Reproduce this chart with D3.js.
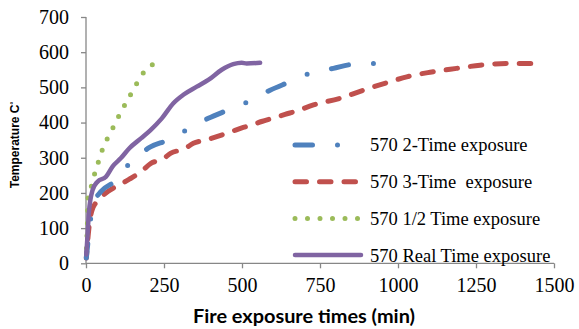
<!DOCTYPE html>
<html>
<head>
<meta charset="utf-8">
<script src="https://cdn.jsdelivr.net/npm/d3@7"></script>
<style>
  html, body { margin: 0; padding: 0; background: #fff; }
  svg { display: block; }
</style>
</head>
<body>
<svg id="chart" width="579" height="329"></svg>
<script>
// ---- data ----
const xTicks = [0, 250, 500, 750, 1000, 1250, 1500];
const yTicks = [0, 100, 200, 300, 400, 500, 600, 700];

const seriesNames = ["570 2-Time exposure", "570 3-Time  exposure", "570 1/2 Time exposure", "570 Real Time exposure"];

const twoTimeX = [1, 7, 13, 16, 25, 48, 91, 142, 205, 262, 328, 392, 456, 523, 590, 648, 718, 793, 851, 924];
const twoTimeY = [15, 66, 110, 137, 170, 204, 232, 286, 330, 350, 382, 412, 436, 461, 492, 514, 540, 554, 565, 568];

const threeTimeX = [1, 6, 12, 19, 30, 45, 70, 107, 139, 176, 208, 246, 272, 315, 344, 387, 419, 462, 504, 531, 563, 606, 638, 675, 729, 814, 889, 974, 1028, 1103, 1188, 1263, 1348, 1428];
const threeTimeY = [15, 70, 120, 150, 170, 185, 204, 223, 239, 260, 284, 296, 313, 325, 341, 351, 360, 373, 386, 393, 403, 414, 423, 433, 450, 469, 492, 516, 530, 543, 554, 563, 568, 568];

const halfTimeX = [0, 4, 7, 21, 30, 43, 55, 73, 91, 109, 128, 147, 167, 188, 215];
const halfTimeY = [15, 100, 190, 229, 263, 296, 330, 362, 393, 425, 456, 486, 518, 546, 566];

const realTimeX = [1, 5, 9, 21, 37, 64, 85, 112, 139, 176, 206, 243, 280, 312, 355, 392, 435, 472, 499, 515, 558];
const realTimeY = [25, 80, 142, 208, 232, 246, 275, 299, 327, 355, 378, 412, 455, 479, 502, 521, 550, 566, 570, 568, 570];

// ---- layout ----
const svg = d3.select("#chart");
const margin = { left: 86, right: 25, top: 17, bottom: 65.7 };
const W = 579, H = 329;
const x = d3.scaleLinear().domain([0, 1500]).range([margin.left, W - margin.right]);
const y = d3.scaleLinear().domain([0, 700]).range([H - margin.bottom, margin.top]);

const axisColor = "#878787";

// axes
const xAxis = svg.append("g")
  .attr("transform", `translate(0,${y(0)})`)
  .call(d3.axisBottom(x).tickValues(xTicks).tickSize(5).tickPadding(10).tickFormat(d3.format("d")));
const yAxis = svg.append("g")
  .attr("transform", `translate(${x(0)},0)`)
  .call(d3.axisLeft(y).tickValues(yTicks).tickSize(5).tickPadding(12).tickFormat(d3.format("d")));

[xAxis, yAxis].forEach(g => {
  g.select(".domain").attr("stroke", axisColor).attr("stroke-width", 1.3);
  g.selectAll(".tick line").attr("stroke", axisColor).attr("stroke-width", 1.3);
  g.selectAll(".tick text")
    .attr("fill", "#000")
    .style("font-family", "'Liberation Serif', 'Times New Roman', serif")
    .style("font-size", "20px");
});
xAxis.select(".domain").attr("d", `M${x(0)},0H${x(1500)}`);
yAxis.select(".domain").attr("d", `M0,${y(0)}V${y(700)}`);

// series styles: endPos = position within the dash period that should fall at the line end
const styles = [
  { xs: twoTimeX, ys: twoTimeY, color: "#4F81BD", width: 5, dash: "17.5 25 0 25", period: 67.5, endPos: 42.5 },
  { xs: threeTimeX, ys: threeTimeY, color: "#C0504D", width: 5, dash: "11.5 13", period: 24.5, endPos: 11.5 },
  { xs: halfTimeX, ys: halfTimeY, color: "#9BBB59", width: 5, dash: "0 12.5", period: 12.5, endPos: 0 },
  { xs: realTimeX, ys: realTimeY, color: "#8064A2", width: 4.5, dash: null }
];

const line = d3.line().x(d => x(d[0])).y(d => y(d[1])).curve(d3.curveMonotoneX);

const plot = svg.append("g");
[1, 0, 2, 3].forEach(i => {
  const s = styles[i];
  const pts = s.xs.map((v, k) => [v, s.ys[k]]);
  const p = plot.append("path")
    .datum(pts)
    .attr("d", line)
    .attr("fill", "none")
    .attr("stroke", s.color)
    .attr("stroke-width", s.width)
    .attr("stroke-linecap", "round")
    .attr("stroke-linejoin", "round")
    .attr("stroke-dasharray", s.dash);
  if (s.dash) {
    const L = p.node().getTotalLength() - 1;   // place the final mark just inside the end
    let off = (s.endPos - L) % s.period;
    if (off < 0) off += s.period;
    p.attr("stroke-dashoffset", off);
  }
});

// legend
const legend = svg.append("g");
const legY0 = 145, legDy = 36.7;
seriesNames.forEach((name, i) => {
  const s = styles[i];
  const yy = legY0 + i * legDy;
  legend.append("line")
    .attr("x1", 295).attr("x2", 361)
    .attr("y1", yy).attr("y2", yy)
    .attr("stroke", s.color)
    .attr("stroke-width", s.width)
    .attr("stroke-linecap", "round")
    .attr("stroke-dasharray", s.dash);
  legend.append("text")
    .attr("x", 370).attr("y", yy)
    .attr("dy", "0.35em")
    .style("font-family", "'Liberation Serif', 'Times New Roman', serif")
    .style("font-size", "18.5px")
    .style("white-space", "pre")
    .attr("xml:space", "preserve")
    .attr("fill", "#000")
    .text(name);
});

// axis titles
svg.append("text")
  .attr("x", 304)
  .attr("y", 323)
  .attr("text-anchor", "middle")
  .attr("textLength", 222)
  .attr("lengthAdjust", "spacingAndGlyphs")
  .style("font-family", "Lato, 'Open Sans', sans-serif")
  .style("font-weight", "700")
  .style("font-size", "19px")
  .attr("fill", "#000")
  .text("Fire exposure times (min)");

const yt = svg.append("text")
  .attr("transform", "translate(19,145) rotate(-90)")
  .attr("text-anchor", "middle")
  .style("font-family", "'Liberation Sans', Arial, sans-serif")
  .style("font-weight", "700")
  .style("font-size", "12px")
  .attr("fill", "#000");
yt.append("tspan").text("Temperature C");
yt.append("tspan").attr("dy", "-0.5em").style("font-size", "7px").text("°");
</script>
</body>
</html>
